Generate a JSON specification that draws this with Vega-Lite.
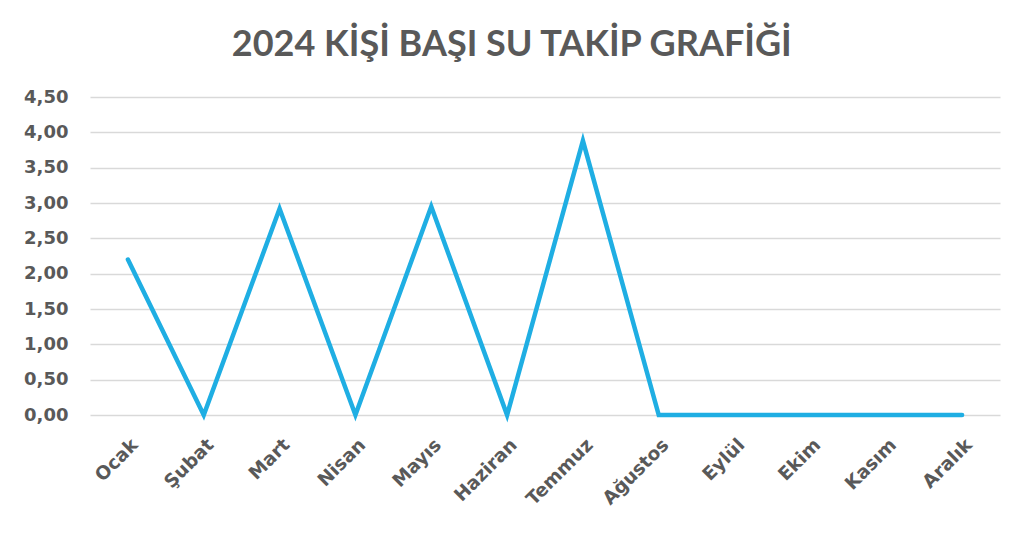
{
  "$schema": "https://vega.github.io/schema/vega-lite/v6.json",
  "autosize": {"type": "none"},
  "width": 910,
  "height": 318,
  "padding": {"left": 90, "top": 97, "right": 24, "bottom": 125},
  "background": "white",
  "title": {
    "text": "2024 KİŞİ BAŞI SU TAKİP GRAFİĞİ",
    "anchor": "middle",
    "frame": "bounds",
    "offset": 24,
    "fontSize": 36,
    "font": "Lato",
    "fontWeight": "bold",
    "color": "#595959"
  },
  "config": {
    "locale": {"number": {"decimal": ",", "thousands": ".", "grouping": [3], "currency": ["", " ₺"]}},
    "view": {"stroke": null},
    "axis": {
      "labelFont": "DejaVu Sans",
      "labelFontWeight": "bold",
      "labelColor": "#595959",
      "domain": false,
      "ticks": false,
      "title": null
    }
  },
  "data": {
    "values": [
      {"ay": "Ocak", "deger": 2.2},
      {"ay": "Şubat", "deger": 0},
      {"ay": "Mart", "deger": 2.92},
      {"ay": "Nisan", "deger": 0},
      {"ay": "Mayıs", "deger": 2.95},
      {"ay": "Haziran", "deger": 0},
      {"ay": "Temmuz", "deger": 3.88},
      {"ay": "Ağustos", "deger": 0},
      {"ay": "Eylül", "deger": 0},
      {"ay": "Ekim", "deger": 0},
      {"ay": "Kasım", "deger": 0},
      {"ay": "Aralık", "deger": 0}
    ]
  },
  "mark": {"type": "line", "color": "#1FAEE3", "strokeWidth": 4.5, "strokeCap": "round", "strokeJoin": "miter"},
  "encoding": {
    "x": {
      "field": "ay",
      "type": "ordinal",
      "sort": null,
      "scale": {"type": "point", "padding": 0.5},
      "axis": {"labelAngle": -45, "labelFontSize": 18.5, "labelPadding": 20, "grid": false}
    },
    "y": {
      "field": "deger",
      "type": "quantitative",
      "scale": {"domain": [0, 4.5], "nice": false},
      "axis": {
        "values": [0, 0.5, 1, 1.5, 2, 2.5, 3, 3.5, 4, 4.5],
        "format": ".2f",
        "labelFontSize": 18,
        "labelPadding": 22,
        "grid": true,
        "gridColor": "#D9D9D9",
        "gridWidth": 1.5
      }
    }
  }
}
